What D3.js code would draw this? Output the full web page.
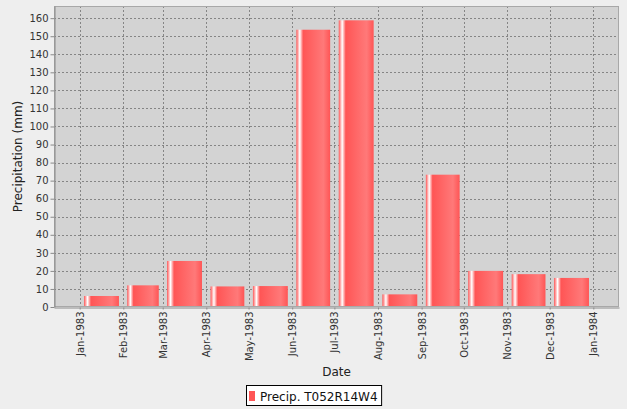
<!DOCTYPE html>
<html>
<head>
<meta charset="utf-8">
<script src="https://cdn.jsdelivr.net/npm/d3@7"></script>
<style>
  body { margin: 0; background: #eeeeee; }
  svg { display: block; font-family: "DejaVu Sans", sans-serif; }
</style>
</head>
<body>
<svg id="svg-container"></svg>
<script>
/////////////////////////////////////////////
////////////// Data /////////////////////////
/////////////////////////////////////////////

// month of each bar (first day of month) and precipitation in mm
const months = ["1983-01", "1983-02", "1983-03", "1983-04", "1983-05", "1983-06",
                "1983-07", "1983-08", "1983-09", "1983-10", "1983-11", "1983-12"];
const precipitation = [6.1, 12.0, 25.5, 11.4, 11.6, 153.6, 158.8, 7.0, 73.3, 20.0, 18.2, 16.1];
const seriesName = "Precip. T052R14W4";
const yTicks = d3.range(0, 161, 10);

/////////////////////////////////////////////
////////////// Constants ////////////////////
/////////////////////////////////////////////

const width = 627;
const height = 409;
const plot = { left: 54, right: 619, top: 6, bottom: 307 };

const barColour = "#ff5555";
const barBright = "#ff7979";
const plotBg = "#d3d3d3";
const gridColour = "#858585";
const axisColour = "#8a8a8a";

function drawChart() {
  const parse = d3.utcParse("%Y-%m");
  const data = months.map((m, i) => {
    const start = parse(m);
    return { start: start, end: d3.utcMonth.offset(start, 1), value: precipitation[i] };
  });

  const svg = d3.select("#svg-container")
    .attr("width", width)
    .attr("height", height);

  /// 1. Scales ///
  // date axis: data range with a 5% margin on each side
  const first = data[0].start;
  const last = data[data.length - 1].end;
  const pad = (last - first) * 0.05;
  const xScale = d3.scaleUtc()
    .domain([new Date(+first - pad), new Date(+last + pad)])
    .range([plot.left, plot.right]);

  const yScale = d3.scaleLinear()
    .domain([0, d3.max(precipitation) * 1.05])
    .range([plot.bottom, plot.top]);

  /// 2. Plot background and gradient ///
  const defs = svg.append("defs");
  const grad = defs.append("linearGradient")
    .attr("id", "bar-grad")
    .attr("x1", 0).attr("x2", 1).attr("y1", 0).attr("y2", 0);
  [[0, barColour], [0.1, "#ffffff"], [0.2, barColour], [0.8, barBright], [1, barColour]]
    .forEach(([o, c]) => grad.append("stop").attr("offset", o).attr("stop-color", c));

  svg.append("rect")
    .attr("x", plot.left).attr("y", plot.top)
    .attr("width", plot.right - plot.left)
    .attr("height", plot.bottom - plot.top)
    .attr("fill", plotBg);

  /// 3. Gridlines ///
  const xTicks = d3.utcMonth.range(first, d3.utcMonth.offset(last, 1));
  const gridG = svg.append("g")
    .attr("stroke", gridColour)
    .attr("stroke-dasharray", "2,2")
    .attr("shape-rendering", "crispEdges");
  gridG.selectAll(".vgrid")
    .data(xTicks)
    .join("line")
      .attr("x1", d => Math.round(xScale(d)) + 0.5)
      .attr("x2", d => Math.round(xScale(d)) + 0.5)
      .attr("y1", plot.top)
      .attr("y2", plot.bottom);
  gridG.selectAll(".hgrid")
    .data(yTicks.slice(1))
    .join("line")
      .attr("x1", plot.left)
      .attr("x2", plot.right)
      .attr("y1", d => Math.round(yScale(d)) + 0.5)
      .attr("y2", d => Math.round(yScale(d)) + 0.5);

  /// 4. Bars - 80% of each month ///
  svg.append("g")
    .selectAll("rect")
    .data(data)
    .join("rect")
      .attr("x", d => xScale(+d.start + (d.end - d.start) * 0.1))
      .attr("width", d => xScale(+d.end - (d.end - d.start) * 0.1) - xScale(+d.start + (d.end - d.start) * 0.1))
      .attr("y", d => yScale(d.value))
      .attr("height", d => yScale(0) - yScale(d.value))
      .attr("fill", "url(#bar-grad)");

  /// 5. Plot outline ///
  svg.append("rect")
    .attr("x", plot.left + 0.5).attr("y", plot.top + 0.5)
    .attr("width", plot.right - plot.left - 1)
    .attr("height", plot.bottom - plot.top - 1)
    .attr("fill", "none")
    .attr("stroke", "#a8a8a8");

  /// 6. Axes ///
  const yAxis = g => g
    .attr("transform", `translate(${plot.left + 0.5},0)`)
    .call(d3.axisLeft(yScale).tickValues(yTicks).tickSize(4).tickSizeOuter(0).tickPadding(2))
    .call(g => g.select(".domain").attr("stroke", axisColour))
    .call(g => g.selectAll(".tick line").attr("stroke", axisColour))
    .call(g => g.selectAll("text").attr("fill", "#333").attr("font-size", 10)
      .attr("font-family", "DejaVu Sans"));
  svg.append("g").call(yAxis);

  const xAxis = g => g
    .attr("transform", `translate(0,${plot.bottom + 0.5})`)
    .call(d3.axisBottom(xScale).tickValues(xTicks).tickFormat(d3.utcFormat("%b-%Y"))
      .tickSize(2).tickSizeOuter(0))
    .call(g => g.select(".domain").attr("stroke", axisColour))
    .call(g => g.selectAll(".tick line").attr("stroke", axisColour))
    .call(g => g.selectAll("text")
      .attr("fill", "#333").attr("font-size", 10).attr("font-family", "DejaVu Sans")
      .attr("text-anchor", "end")
      .attr("transform", "rotate(-90)")
      .attr("x", -4).attr("y", 0).attr("dy", "0.35em"));
  svg.append("g").call(xAxis);

  /// 7. Axis titles ///
  svg.append("text")
    .attr("transform", `translate(22,${(plot.top + plot.bottom) / 2}) rotate(-90)`)
    .attr("text-anchor", "middle")
    .attr("font-size", 12)
    .attr("fill", "#222")
    .text("Precipitation (mm)");

  svg.append("text")
    .attr("x", (plot.left + plot.right) / 2)
    .attr("y", 376)
    .attr("text-anchor", "middle")
    .attr("font-size", 12)
    .attr("fill", "#222")
    .text("Date");

  /// 8. Legend ///
  const legendG = svg.append("g");
  const legendText = legendG.append("text")
    .attr("x", 260).attr("y", 401)
    .attr("font-size", 12)
    .attr("fill", "#111")
    .text(seriesName);
  const tw = legendText.node().getComputedTextLength();
  legendG.insert("rect", "text")
    .attr("x", 246.5).attr("y", 385.5)
    .attr("width", 260 + tw + 4 - 246.5).attr("height", 20)
    .attr("fill", "#ffffff")
    .attr("stroke", "#000");
  legendG.append("rect")
    .attr("x", 249).attr("y", 391)
    .attr("width", 6).attr("height", 10)
    .attr("fill", barColour);
}
drawChart();
</script>
</body>
</html>
